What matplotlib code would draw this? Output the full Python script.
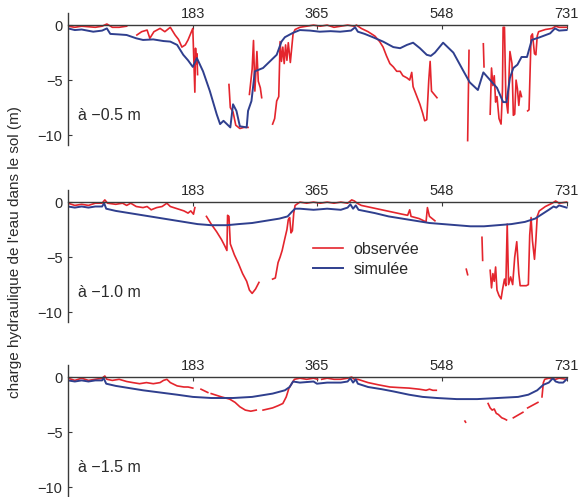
import numpy as np
import matplotlib
matplotlib.use('Agg')
import matplotlib.pyplot as plt

plt.rcParams['font.family'] = ['Liberation Sans', 'DejaVu Sans']

nan = np.nan

# axis ticks and panel texts
x_ticks = [183, 365, 548, 731]
y_ticks = [0, -5, -10]
depth_labels = ['à −0.5 m', 'à −1.0 m', 'à −1.5 m']
legend_labels = ['observée', 'simulée']
y_title = "charge hydraulique de l'eau dans le sol (m)"

# --- depth -0.5 m ---
sim1_day = [0, 10, 20, 37, 50, 57, 62, 75, 86, 100, 110, 125, 140, 150, 160, 169, 176, 183, 189, 198,
            208, 218, 223, 228, 238, 242, 247, 252, 262, 264, 269, 274, 286, 296, 306, 313, 318, 330,
            340, 355, 369, 385, 399, 415, 421, 425, 435, 447, 462, 477, 487, 497, 506, 516, 526, 532,
            538, 550, 565, 580, 589, 601, 609, 619, 629, 638, 643, 648, 653, 659, 665, 673, 680, 692,
            707, 714, 720, 731]
sim1_val = [-0.3, -0.45, -0.4, -0.6, -0.5, -0.3, -0.8, -0.85, -0.9, -1.2, -1.35, -1.3, -1.45, -1.5, -1.8, -2.7,
            -3.2, -3.8, -3.0, -4.2, -6.0, -8.1, -9.0, -8.7, -9.3, -7.2, -7.8, -9.2, -9.3, -7.8, -6.9, -4.2,
            -3.9, -3.3, -2.7, -1.5, -1.1, -0.7, -0.45, -0.5, -0.6, -0.55, -0.6, -0.5, -0.2, -0.6, -0.8,
            -1.1, -1.5, -2.0, -2.1, -1.8, -1.6, -2.1, -2.7, -2.8, -2.5, -1.6, -2.5, -4.2, -5.2, -5.9, -4.3,
            -5.0, -5.7, -7.0, -7.0, -4.8, -3.9, -3.6, -2.9, -2.9, -1.35, -1.1, -0.75, -0.3, -0.5, -0.45]
obs1_day = [0, 10, 20, 30, 40, 50, 57, 65, 75, 86, nan,
            101, 108, 116, 120, 126, 135, 142, 150, 157, 162, 167, 172, 176, 181, 183, 186, 187, 188, 189, 190, nan,
            236, 238, 242, 246, 252, 258, 264, nan,
            266, 270, 272, 274, 277, 279, 282, 284, nan,
            300, 303, 306, 309, 311, 313, 315, 317, 319, 321, 323, 326, 330, 333, 340, 350, 360, 370, 380,
            390, 400, 410, 420, 423, 430, 440, 450, 457, 462, 467, 472, 477, 482, 487, 491, 497, 501, 504,
            506, 511, 516, 520, 523, 526, 529, 531, 533, 537, 541, nan,
            586, 588, nan,
            609, 610, nan,
            619, 621, 623, 625, 627, 629, 632, 635, 637, 638, 640, 642, 645, 647, 648, 651, 653, 655, 657,
            659, 661, 663, 665, nan,
            674, 676, 679, 681, 684, 686, 688, 690, 700, 710, 715, 720, 731]
obs1_val = [-0.1, -0.2, -0.1, -0.15, -0.2, -0.1, 0.1, -0.2, -0.2, -0.1, nan,
            -0.9, -0.6, -0.45, -1.2, -0.6, -0.3, -0.6, -0.2, -0.9, -1.3, -2.0, -1.8, -1.35, -0.6, -0.3,
            -6.1, -2.1, -3.5, -2.6, -4.5, nan,
            -5.4, -7.5, -7.9, -9.1, -9.4, -9.3, -9.3, nan,
            -6.3, -4.0, -1.4, -6.0, -2.4, -5.1, -5.7, -6.6, nan,
            -9.0, -8.5, -6.9, -6.5, -1.5, -3.3, -2.0, -3.5, -1.8, -3.2, -1.6, -3.4, -0.8, -0.4, -0.2, -0.1,
            0.0, -0.1, 0.0, -0.2, -0.1, 0.0, -0.1, 0.0, -0.3, -0.6, -1.0, -1.5, -2.0, -2.8, -3.5, -3.8,
            -4.2, -4.2, -4.6, -4.8, -5.0, -4.3, -5.6, -6.4, -7.2, -8.0, -8.7, -8.6, -5.0, -3.3, -6.0,
            -6.3, -6.6, nan,
            -10.5, -2.3, nan,
            -1.7, -3.8, nan,
            -8.1, -3.9, -5.5, -4.6, -7.0, -6.5, -8.5, -9.0, -6.0, -0.2, -0.2, -6.6, -8.0, -4.0, -2.4,
            -3.5, -8.2, -8.1, -5.0, -5.8, -7.3, -6.0, -6.5, nan,
            -7.8, -7.7, -1.0, -0.8, -2.6, -2.7, -1.0, -0.6, -0.4, -0.3, -0.1, -0.2, -0.2]

# --- depth -1.0 m ---
sim2_day = [0, 10, 20, 30, 40, 50, 53, 56, 70, 90, 110, 130, 150, 170, 190, 210, 233, 250, 270, 290,
            310, 322, 328, 333, 340, 360, 380, 400, 410, 414, 418, 422, 426, 450, 470, 490, 510, 530,
            550, 570, 590, 610, 630, 650, 670, 685, 695, 705, 712, 716, 720, 731]
sim2_val = [-0.4, -0.5, -0.4, -0.5, -0.4, -0.4, -0.1, -0.6, -0.8, -1.0, -1.2, -1.4, -1.6, -1.8, -2.0, -2.1,
            -2.1, -2.0, -1.9, -1.7, -1.5, -1.3, -0.9, -0.6, -0.6, -0.7, -0.6, -0.7, -0.5, -0.2, -0.6, -0.3,
            -0.7, -1.0, -1.3, -1.5, -1.7, -1.9, -2.0, -2.1, -2.2, -2.2, -2.1, -2.0, -1.8, -1.5, -1.1, -0.7,
            -0.4, -0.5, -0.3, -0.5]
obs2_day = [0, 10, 20, 30, 40, 50, 54, 58, 70, 80, 86, 92, 100, 110, 116, 122, 130, 138, 145, 150, 160,
            170, 176, 180, 184, 186, nan,
            203, 210, 218, 225, 230, 233, 234, 236, 238, 241, 244, 250, 256, 262, 266, 270, 275, 280, nan,
            300, 304, 308, 311, 314, 318, 321, 323, 325, 327, 329, 331, 333, 340, 350, 360, 370, 380, 390,
            400, 410, 416, 420, 424, 430, 445, 460, 475, 490, 498, 501, 503, 515, 525, 527, 530, 534, 538, nan,
            584, 586, nan,
            607, 608, nan,
            619, 621, 623, 625, 627, 629, 632, 635, 637, 640, 642, 644, 646, 649, 652, 655, 658, 661, 663,
            667, 672, 675, 677, 679, 681, 684, 686, 688, 691, 700, 710, 715, 720, 731]
obs2_val = [-0.1, -0.3, -0.2, -0.3, -0.1, -0.1, 0.2, -0.1, -0.2, -0.1, -0.3, -0.1, -0.4, -0.5, -0.4, -0.7,
            -0.5, -0.4, -0.1, -0.4, -0.6, -0.8, -1.0, -0.8, -1.1, -0.5, nan,
            -1.3, -2.0, -2.7, -3.4, -4.0, -4.4, -1.2, -1.3, -3.8, -4.3, -4.8, -5.6, -6.5, -7.2, -8.0, -8.3,
            -7.9, -7.3, nan,
            -7.0, -6.9, -5.5, -5.0, -4.4, -3.3, -2.5, -1.6, -1.4, -2.8, -2.6, -1.0, -0.3, 0.0, -0.1, 0.0,
            -0.1, 0.0, -0.1, 0.0, -0.1, 0.2, 0.1, -0.1, -0.3, -0.5, -0.7, -0.9, -1.1, -1.2, -0.7, -1.3, -1.5,
            -1.8, -0.5, -1.3, -1.5, -1.7, nan,
            -6.1, -6.6, nan,
            -3.2, -5.3, nan,
            -6.2, -7.8, -6.5, -7.2, -5.9, -8.0, -8.5, -8.8, -8.0, -7.0, -7.6, -2.0, -7.5, -6.8, -7.5, -5.0,
            -3.6, -6.5, -7.6, -7.6, -7.6, -7.5, -3.0, -1.4, -3.5, -5.2, -3.5, -1.3, -0.8, -0.4, -0.1, 0.1,
            -0.1, 0.0]

# --- depth -1.5 m ---
sim3_day = [0, 10, 20, 30, 40, 50, 52, 56, 70, 90, 110, 135, 160, 183, 210, 242, 270, 300, 318, 325,
            330, 340, 360, 365, 380, 400, 410, 414, 418, 422, 425, 440, 460, 477, 500, 520, 541, 570,
            600, 630, 660, 675, 688, 697, 705, 711, 715, 720, 726, 731]
sim3_val = [-0.3, -0.4, -0.3, -0.4, -0.3, -0.3, -0.05, -0.6, -0.8, -1.0, -1.2, -1.4, -1.6, -1.8, -1.9,
            -1.9, -1.8, -1.5, -1.2, -0.9, -0.4, -0.5, -0.4, -0.6, -0.5, -0.5, -0.4, -0.1, -0.5, -0.2, -0.6,
            -0.9, -1.1, -1.3, -1.6, -1.8, -1.9, -2.0, -2.0, -1.9, -1.8, -1.6, -1.2, -0.7, -0.5, -0.1, -0.4,
            -0.5, -0.5, -0.2]
obs3_day = [0, 10, 20, 30, 40, 50, 54, 57, 65, 75, 86, 95, 105, 115, 125, 135, 140, 145, 150, 160, 170,
            176, 183, nan,
            195, 205, nan,
            210, 225, 237, 245, 252, 260, 268, 276, nan,
            286, 293, 300, 308, 315, 320, 324, 328, 332, 340, 350, 360, 366, nan,
            372, 380, 390, 400, 410, 416, 420, 425, 440, 455, 472, 485, 500, 515, 525, 530, 535, 540, nan,
            582, 583, nan,
            616, 619, 622, 625, 628, 631, 636, 640, 643, nan,
            653, 667, nan,
            674, 689, nan,
            695, 697, 699, 705, 715, 720, 731]
obs3_val = [-0.1, -0.3, -0.1, -0.3, -0.2, -0.1, 0.1, -0.2, -0.3, -0.2, -0.4, -0.5, -0.6, -0.5, -0.6, -0.5,
            -0.3, -0.2, -0.5, -0.8, -0.9, -0.9, -1.0, nan,
            -1.1, -1.4, nan,
            -1.5, -1.8, -2.0, -2.3, -2.7, -3.0, -3.1, -3.0, nan,
            -3.0, -2.9, -2.8, -2.6, -2.4, -1.8, -1.0, -0.6, -0.2, -0.1, -0.2, -0.1, -0.2, nan,
            -0.2, -0.1, -0.2, -0.2, -0.1, 0.0, -0.2, -0.2, -0.5, -0.7, -0.9, -0.95, -1.0, -1.1, -1.2, -1.1,
            -1.2, -1.2, nan,
            -4.0, -4.1, nan,
            -2.4, -2.8, -3.0, -2.9, -3.3, -3.4, -3.7, -3.8, -3.9, nan,
            -3.7, -3.2, nan,
            -2.8, -2.3, nan,
            -1.8, -0.5, -0.2, -0.1, -0.2, -0.1, -0.2]

sim_days = [sim1_day, sim2_day, sim3_day]
sim_vals = [sim1_val, sim2_val, sim3_val]
obs_days = [obs1_day, obs2_day, obs3_day]
obs_vals = [obs1_val, obs2_val, obs3_val]

red = '#e4252d'
blue = '#2f3f8e'
axis_col = '#3a3a3a'

fig = plt.figure(figsize=(5.81, 4.97), dpi=100)
bottoms = [1 - 145 / 497, 1 - 322 / 497, 0.0]
height = 132 / 497
left = 68 / 581
width = 735 * 0.682 / 581

for i in range(3):
    ax = fig.add_axes([left, bottoms[i], width, height])
    ax.plot(obs_days[i], obs_vals[i], color=red, lw=1.2, label=legend_labels[0])
    ax.plot(sim_days[i], sim_vals[i], color=blue, lw=1.4, label=legend_labels[1])
    ax.set_xlim(0, 735)
    ax.set_ylim(-10.9, 1.1)

    for s in ['right', 'bottom']:
        ax.spines[s].set_visible(False)
    ax.spines['top'].set_position(('data', 0))
    ax.spines['top'].set_bounds(0, 731)
    ax.spines['top'].set_color(axis_col)
    ax.spines['left'].set_color(axis_col)
    ax.spines['top'].set_linewidth(1.0)
    ax.spines['left'].set_linewidth(1.0)

    ax.xaxis.set_ticks_position('top')
    ax.set_xticks(x_ticks)
    ax.set_yticks(y_ticks)
    ax.set_yticklabels(['0', '−5', '−10'])
    ax.tick_params(axis='x', direction='in', length=3, pad=3, labelsize=10.5,
                   color=axis_col, labelcolor='#2a2a2a')
    ax.tick_params(axis='y', direction='in', length=3, pad=4, labelsize=10.5,
                   color=axis_col, labelcolor='#2a2a2a')
    ax.patch.set_alpha(0)

    ax.text(15, -8.2, depth_labels[i], fontsize=11.5, color='#2a2a2a', va='center', ha='left')

    if i == 1:
        ax.legend(loc='upper left', bbox_to_anchor=(0.489, 0.606), frameon=False,
                  fontsize=11.5, handlelength=1.85, handletextpad=0.7, labelspacing=0.3,
                  borderpad=0, borderaxespad=0, labelcolor='#2a2a2a')

fig.text(15 / 581, 1 - 252 / 497, y_title, rotation=90, va='center', ha='center',
         fontsize=11, color='#2a2a2a')

fig.savefig('out.png', dpi=100)
